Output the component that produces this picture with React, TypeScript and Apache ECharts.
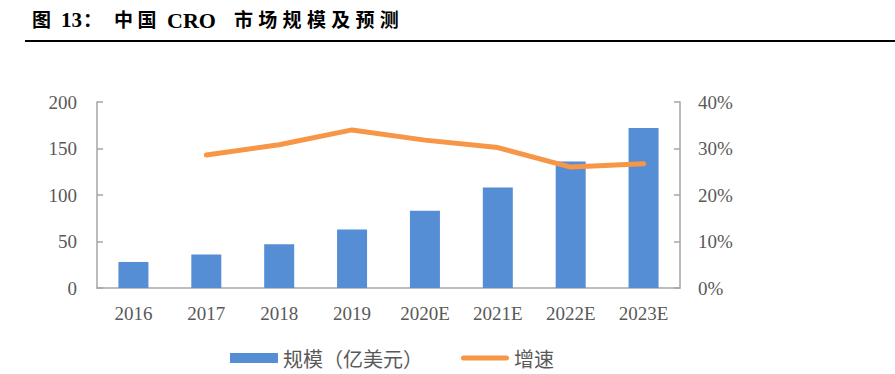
import React, { useEffect, useRef } from "react";
import * as echarts from "echarts";

const categories = ["2016", "2017", "2018", "2019", "2020E", "2021E", "2022E", "2023E"];
const scaleValues = [28, 36, 47, 63, 83, 108, 136, 172];
const growthValues = [null, 28.6, 30.8, 34.0, 31.8, 30.2, 26.0, 26.7];
const leftTicks = [0, 50, 100, 150, 200];
const rightTicks = [0, 10, 20, 30, 40];

const serif = "'Liberation Serif', 'Times New Roman', 'Noto Sans CJK SC', serif";
const labelColor = "#595959";
const axisColor = "#A6A6A6";

// title pieces: [text, x, pitch, fontSize]
const titlePieces: [string, number, number, number][] = [
  ["图", 32, 0, 19],
  ["13", 61, 0, 21],
  ["：", 83, 0, 19],
  ["中国", 114, 23.5, 19],
  ["CRO", 167, 0, 22],
  ["市场规模及预测", 234, 24.3, 19],
];

function buildTitle() {
  const out: any[] = [];
  titlePieces.forEach(([text, x, pitch, size]) => {
    if (pitch > 0) {
      Array.from(text).forEach((ch, i) => {
        out.push({
          type: "text",
          x: x + i * pitch,
          y: 11,
          style: { text: ch, font: `bold ${size}px ${serif}`, fill: "#000000" },
        });
      });
    } else {
      out.push({
        type: "text",
        x,
        y: size > 20 ? 9 : 11,
        style: { text, font: `bold ${size}px ${serif}`, fill: "#000000" },
      });
    }
  });
  return out;
}

export default function App() {
  const ref = useRef<HTMLDivElement>(null);
  useEffect(() => {
    if (!ref.current) return;
    const chart = echarts.init(ref.current, undefined, { renderer: "svg" });
    chart.setOption({
      animation: false,
      backgroundColor: "#ffffff",
      graphic: [
        ...buildTitle(),
        {
          type: "rect",
          shape: { x: 25, y: 40, width: 870, height: 2 },
          style: { fill: "#000000" },
        },
      ],
      grid: { left: 97, right: 215, top: 102, bottom: 86 },
      legend: {
        left: 230,
        top: 348,
        padding: 0,
        itemGap: 38,
        itemWidth: 48,
        itemHeight: 10,
        textStyle: { fontFamily: "'Noto Sans CJK SC', sans-serif", fontSize: 20, color: labelColor },
        data: [
          { name: "规模（亿美元）", icon: "rect" },
          { name: "增速", icon: "path://M2.5,0 L45.5,0 A2.5,2.5 0 0 1 45.5,5 L2.5,5 A2.5,2.5 0 0 1 2.5,0 Z" },
        ],
      },
      xAxis: {
        type: "category",
        data: categories,
        boundaryGap: true,
        axisLine: { lineStyle: { color: axisColor, width: 1.5 } },
        axisTick: { inside: true, length: 6, lineStyle: { color: axisColor, width: 1.5 } },
        axisLabel: { fontFamily: serif, fontSize: 19, color: labelColor, margin: 16 },
      },
      yAxis: [
        {
          type: "value",
          min: leftTicks[0],
          max: leftTicks[leftTicks.length - 1],
          interval: 50,
          splitLine: { show: false },
          axisLine: { show: true, lineStyle: { color: axisColor, width: 1.5 } },
          axisTick: { show: true, inside: true, length: 6, lineStyle: { color: axisColor, width: 1.5 } },
          axisLabel: { fontFamily: serif, fontSize: 19, color: labelColor, margin: 20 },
        },
        {
          type: "value",
          min: rightTicks[0],
          max: rightTicks[rightTicks.length - 1],
          interval: 10,
          splitLine: { show: false },
          axisLine: { show: true, lineStyle: { color: axisColor, width: 1.5 } },
          axisTick: { show: true, inside: true, length: 6, lineStyle: { color: axisColor, width: 1.5 } },
          axisLabel: { fontFamily: serif, fontSize: 19, color: labelColor, margin: 18, formatter: "{value}%" },
        },
      ],
      series: [
        {
          name: "规模（亿美元）",
          type: "bar",
          data: scaleValues,
          barWidth: 30,
          itemStyle: { color: "#558ED5" },
        },
        {
          name: "增速",
          type: "line",
          yAxisIndex: 1,
          data: growthValues,
          symbol: "none",
          lineStyle: { color: "#F79646", width: 5, cap: "round", join: "round" },
          itemStyle: { color: "#F79646" },
        },
      ],
    });
    return () => chart.dispose();
  }, []);
  return <div ref={ref} style={{ width: 895, height: 374, position: "absolute", left: 0, top: 0 }} />;
}
